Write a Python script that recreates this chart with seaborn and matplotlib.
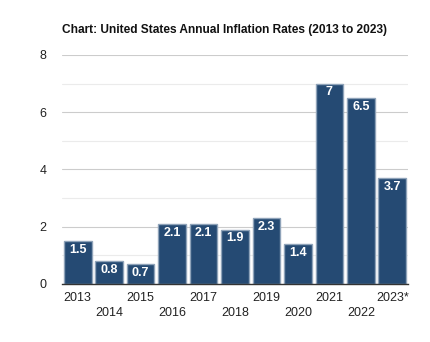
import matplotlib
matplotlib.use("Agg")
import matplotlib.pyplot as plt
import seaborn as sns
import pandas as pd

years = ["2013", "2014", "2015", "2016", "2017", "2018", "2019", "2020", "2021", "2022", "2023*"]
rates = [1.5, 0.8, 0.7, 2.1, 2.1, 1.9, 2.3, 1.4, 7.0, 6.5, 3.7]
labels = ["1.5", "0.8", "0.7", "2.1", "2.1", "1.9", "2.3", "1.4", "7", "6.5", "3.7"]
yticks = [0, 2, 4, 6, 8]

df = pd.DataFrame({"year": years, "rate": rates})

sns.set_theme(style="white")
plt.rcParams["font.family"] = ["Liberation Sans", "DejaVu Sans"]

fig = plt.figure(figsize=(4.31, 3.42), dpi=100)
ax = fig.add_axes([62/431, 1 - 284/342, 346/431, 229/342])

for y in [1, 3, 5, 7]:
    ax.axhline(y, color="#ebebeb", lw=0.8, zorder=0)
for y in [2, 4, 6, 8]:
    ax.axhline(y, color="#cccccc", lw=0.8, zorder=0)

sns.barplot(data=df, x="year", y="rate", color="#254a73", saturation=1,
            width=0.88, edgecolor="#8fa3b9", linewidth=1.0, ax=ax, zorder=2)

for i, (v, t) in enumerate(zip(rates, labels)):
    ax.text(i, v - 0.1, t, ha="center", va="top", color="white",
            fontsize=9, fontweight="bold", zorder=3)

ax.set_ylim(0, 8)
ax.set_xlim(-0.5, len(years) - 0.5)
ax.set_yticks(yticks)
ax.set_yticklabels([str(v) for v in yticks], fontsize=9, color="#222222")
ax.tick_params(axis="y", length=0, pad=11)
ax.tick_params(axis="x", length=0)
ax.set_xticks(range(len(years)))
ax.set_xticklabels([])
for i, yr in enumerate(years):
    off = 0.035 if i % 2 == 0 else 0.1
    ax.text(i, -off, yr, transform=ax.get_xaxis_transform(), ha="center", va="top",
            fontsize=9, color="#222222")
ax.set_xlabel("")
ax.set_ylabel("")
for s in ["top", "right", "left"]:
    ax.spines[s].set_visible(False)
ax.spines["bottom"].set_color("#333333")
ax.spines["bottom"].set_linewidth(1.0)

fig.text(62/431, 1 - 30/342, "Chart: United States Annual Inflation Rates (2013 to 2023)",
         ha="left", va="center", fontsize=8.6, fontweight="bold", color="#111111")

fig.savefig("out.png", dpi=100, facecolor="white")
